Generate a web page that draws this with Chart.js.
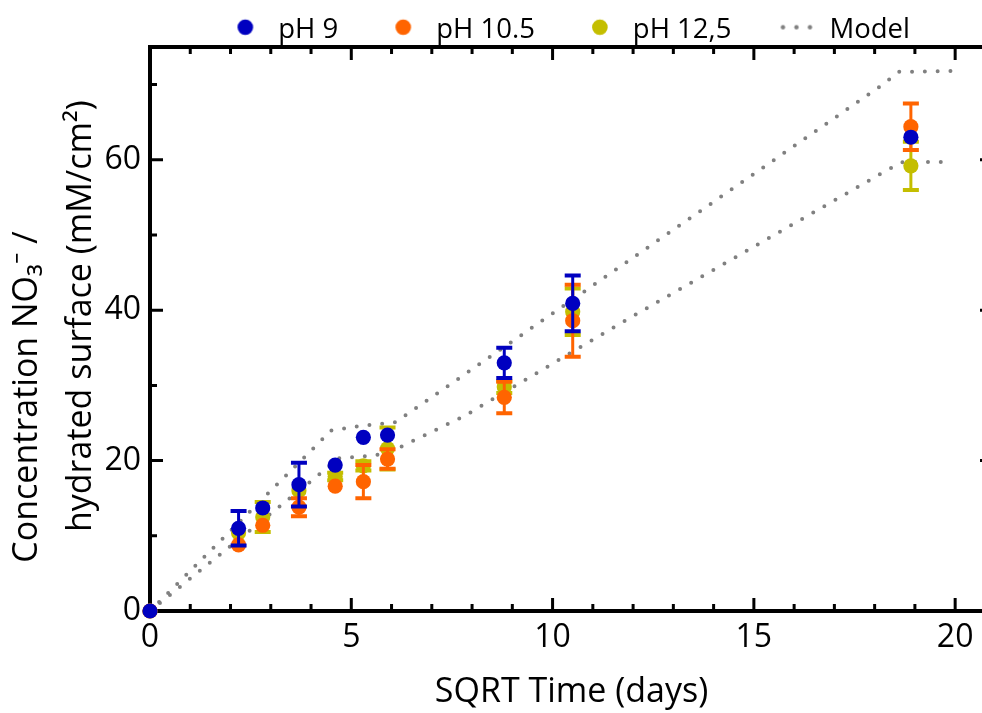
<!DOCTYPE html>
<html>
<head>
<meta charset="utf-8">
<script src="https://cdn.jsdelivr.net/npm/chart.js@4.4.1/dist/chart.umd.min.js"></script>
<style>
  html, body { margin: 0; padding: 0; background: #fff; overflow: hidden; }
</style>
</head>
<body>
<canvas id="myChart" width="1004" height="713"></canvas>
<script>
// x values (SQRT time, days)
const sqrtTime = [0, 2.2, 2.8, 3.7, 4.6, 5.3, 5.9, 8.8, 10.5, 18.9];

// measured concentrations + error bars
const ph9 = [0, 11.0, 13.7, 16.8, 19.4, 23.1, 23.4, 33.0, 40.9, 63.0];
const ph9Err = [0, 2.3, 0, 2.9, 0, 0, 0, 2.0, 3.7, 0];
const ph105 = [0, 8.8, 11.4, 13.8, 16.6, 17.2, 20.2, 28.4, 38.6, 64.4];
const ph105Err = [0, 0, 0, 1.2, 0, 2.2, 1.3, 2.1, 4.8, 3.1];
const ph125 = [0, 10.4, 12.5, 16.0, 17.9, 19.3, 21.6, 29.8, 39.8, 59.2];
const ph125Err = [0, 0, 2.0, 0, 0.5, 0.6, 2.8, 0.8, 3.1, 3.2];

// model curves (two bounds)
const modelUpX = [0, 4.5, 5.2, 6.1, 18.2, 18.6, 19.9];
const modelUpY = [0, 24.0, 24.6, 25.1, 70.0, 71.7, 71.8];
const modelLowX = [0, 4.7, 5.6, 6.1, 7.8, 11.7, 18.3, 18.7, 19.8];
const modelLowY = [0, 20.3, 20.7, 21.5, 25.9, 38.3, 58.6, 59.7, 59.7];

// axis ticks
const xTickLabels = [0, 5, 10, 15, 20];
const yTickLabels = [0, 20, 40, 60];

const legendNames = ['pH 9', 'pH 10.5', 'pH 12,5', 'Model'];
const seriesColors = ['#0000C0', '#FF6400', '#C4BE00'];
const modelColor = '#808080';
const seriesValues = [ph9, ph105, ph125];
const seriesErrors = [ph9Err, ph105Err, ph125Err];

const fontFamily = "'Open Sans', 'Noto Sans', sans-serif";

// legend icons (drawn off-centre inside the image so the spacing matches)
function makeIcon(color, dotted) {
  const c = document.createElement('canvas');
  c.width = 70; c.height = 26;
  const g = c.getContext('2d');
  g.fillStyle = color;
  const cx = 35 + 17.9, cy = 13 - 2.5;
  if (dotted) {
    [-13.5, 0, 13.5].forEach(function (d) {
      g.beginPath(); g.arc(cx + d, cy, 2.2, 0, Math.PI * 2); g.fill();
    });
  } else {
    g.beginPath(); g.arc(cx, cy, 7.8, 0, Math.PI * 2); g.fill();
  }
  return c;
}
const legendIcons = [makeIcon(seriesColors[0]), makeIcon(seriesColors[1]), makeIcon(seriesColors[2]), makeIcon(modelColor, true)];

const errorBars = {
  id: 'errorBars',
  beforeDatasetDraw(chart, args) {
    const i = args.index;
    if (i > 2) return;
    const ctx = chart.ctx;
    const x = chart.scales.x, y = chart.scales.y;
    const vals = seriesValues[i], errs = seriesErrors[i];
    ctx.save();
    ctx.strokeStyle = seriesColors[i];
    vals.forEach(function (v, k) {
      if (!errs[k]) return;
      const px = x.getPixelForValue(sqrtTime[k]);
      const top = y.getPixelForValue(v + errs[k]);
      const bot = y.getPixelForValue(v - errs[k]);
      ctx.lineWidth = 3;
      ctx.beginPath();
      ctx.moveTo(px, top); ctx.lineTo(px, bot);
      ctx.stroke();
      ctx.lineWidth = 4;
      ctx.beginPath();
      ctx.moveTo(px - 8, top); ctx.lineTo(px + 8, top);
      ctx.moveTo(px - 8, bot); ctx.lineTo(px + 8, bot);
      ctx.stroke();
    });
    ctx.restore();
  }
};

// box frame with inward ticks on all four sides
const frame = {
  id: 'frame',
  beforeDatasetsDraw(chart) {
    const ctx = chart.ctx, a = chart.chartArea;
    const x = chart.scales.x, y = chart.scales.y;
    ctx.save();
    ctx.strokeStyle = '#000';
    ctx.lineWidth = 4;
    ctx.strokeRect(a.left, a.top, a.right - a.left, a.bottom - a.top);
    ctx.lineWidth = 3;
    ctx.beginPath();
    for (let v = 0; v <= 20; v++) {
      const px = x.getPixelForValue(v);
      const len = v % 5 === 0 ? 13 : 7;
      ctx.moveTo(px, a.bottom); ctx.lineTo(px, a.bottom - len);
      ctx.moveTo(px, a.top); ctx.lineTo(px, a.top + len);
    }
    for (let v = 0; v <= 70; v += 10) {
      const py = y.getPixelForValue(v);
      const len = v % 20 === 0 ? 13 : 7;
      ctx.moveTo(a.left, py); ctx.lineTo(a.left + len, py);
      ctx.moveTo(a.right, py); ctx.lineTo(a.right - len, py);
    }
    ctx.stroke();
    ctx.restore();
  }
};

function pointSet(i) {
  return {
    label: legendNames[i],
    data: sqrtTime.map(function (t, k) { return {x: t, y: seriesValues[i][k]}; }),
    backgroundColor: seriesColors[i],
    borderWidth: 0,
    pointRadius: 7.6,
    pointHoverRadius: 7.6,
    clip: false
  };
}
function modelSet(xs, ys, label) {
  return {
    label: label,
    data: xs.map(function (t, k) { return {x: t, y: ys[k]}; }),
    showLine: true,
    pointRadius: 0,
    borderColor: modelColor,
    borderWidth: 4,
    borderDash: [0, 12.8],
    borderCapStyle: 'round',
    fill: false,
    clip: false
  };
}

const ctx = document.getElementById('myChart').getContext('2d');
const myChart = new Chart(ctx, {
  type: 'scatter',
  data: {
    datasets: [
      pointSet(0),
      pointSet(1),
      pointSet(2),
      modelSet(modelUpX, modelUpY, 'Model'),
      modelSet(modelLowX, modelLowY, 'Model low')
    ]
  },
  options: {
    responsive: false,
    animation: false,
    devicePixelRatio: 1,
    layout: { padding: { top: 6, right: 11, left: 0, bottom: 0 } },
    plugins: {
      tooltip: { enabled: false },
      legend: {
        position: 'top',
        fullSize: false,
        maxHeight: 41,
        labels: {
          usePointStyle: true,
          pointStyleWidth: 74.25,
          padding: 10,
          color: '#000',
          font: { family: fontFamily, size: 27.5 },
          generateLabels: function () {
            return legendNames.map(function (name, i) {
              return {
                // trailing spaces on the last entry nudge the centred row left
                text: i === legendNames.length - 1 ? name + '      ' : name,
                pointStyle: legendIcons[i],
                fillStyle: 'rgba(0,0,0,0)',
                strokeStyle: 'rgba(0,0,0,0)',
                lineWidth: 0,
                hidden: false,
                datasetIndex: i,
                fontColor: '#000'
              };
            });
          }
        }
      }
    },
    scales: {
      x: {
        type: 'linear',
        min: 0,
        max: 20.94,
        afterFit: function (s) { s.height = 102; },
        afterBuildTicks: function (s) { s.ticks = xTickLabels.map(function (v) { return {value: v}; }); },
        grid: { display: false, drawTicks: false },
        border: { display: false },
        ticks: { color: '#000', padding: 8, autoSkip: false, maxRotation: 0, font: { family: fontFamily, size: 32 } },
        title: {
          display: true,
          text: 'SQRT Time (days)',
          color: '#000',
          padding: { top: 0, bottom: 0 },
          font: { family: fontFamily, size: 34 }
        }
      },
      y: {
        type: 'linear',
        min: 0,
        max: 75,
        afterFit: function (s) { s.width = 150; },
        afterBuildTicks: function (s) { s.ticks = yTickLabels.map(function (v) { return {value: v}; }); },
        grid: { display: false, drawTicks: false },
        border: { display: false },
        ticks: { color: '#000', padding: 9, autoSkip: false, font: { family: fontFamily, size: 32 } },
        title: {
          display: true,
          text: [
            'Concentration NO\u2083\u207B /' + '\u2002\u2002\u2002\u2002\u2002\u2002\u2002\u2002',
            '\u2002 hydrated surface (mM/cm\u00B2)'
          ],
          color: '#000',
          padding: { top: 0, bottom: 0 },
          font: { family: fontFamily, size: 34, lineHeight: 1.6 }
        }
      }
    }
  },
  plugins: [errorBars, frame]
});
</script>
</body>
</html>
